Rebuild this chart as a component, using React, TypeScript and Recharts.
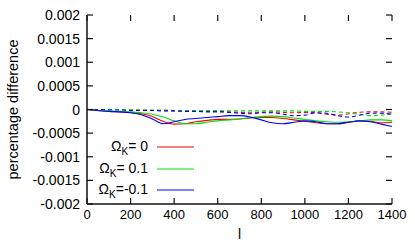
import React from 'react';
import { LineChart, Line, XAxis, YAxis } from 'recharts';

const L = [0, 50, 100, 150, 200, 250, 300, 350, 400, 450, 500, 550, 600, 650, 700, 750, 800, 850, 900, 950, 1000, 1050, 1100, 1150, 1200, 1250, 1300, 1350, 1400];

const redSolid = [0, -0.00002, -0.00004, -0.00005, -0.00006, -0.00009, -0.00015, -0.00025, -0.00031, -0.0003, -0.00026, -0.00023, -0.00021, -0.00021, -0.0002, -0.00018, -0.00017, -0.00017, -0.00019, -0.00022, -0.00025, -0.00028, -0.0003, -0.0003, -0.00027, -0.00024, -0.00025, -0.00028, -0.00027];
const greenSolid = [0, -0.00002, -0.00003, -0.00004, -0.00005, -0.00007, -0.0001, -0.00016, -0.00024, -0.0003, -0.0003, -0.00027, -0.00024, -0.00022, -0.0002, -0.00017, -0.00015, -0.00014, -0.00015, -0.00018, -0.00021, -0.00024, -0.00026, -0.00027, -0.00026, -0.00024, -0.00022, -0.00022, -0.00024];
const blueSolid = [0, -0.00002, -0.00004, -0.00005, -0.00007, -0.00011, -0.0002, -0.0003, -0.00026, -0.00021, -0.00019, -0.00017, -0.00015, -0.00013, -0.00013, -0.00016, -0.00022, -0.00028, -0.0003, -0.00027, -0.00024, -0.00026, -0.0003, -0.0003, -0.00027, -0.00024, -0.00026, -0.00031, -0.00036];
const redDashed = [0, 0, 0, 0, -0.00001, -0.00001, -0.00002, -0.00002, -0.00003, -0.00003, -0.00003, -0.00004, -0.00004, -0.00005, -0.00006, -0.00007, -0.00006, -0.00005, -0.00006, -0.00007, -0.00006, -0.00007, -0.0001, -0.00012, -0.00009, -0.00006, -0.00005, -0.00005, -0.00006];
const greenDashed = [0, 0, 0, 0, -0.00001, -0.00001, -0.00001, -0.00001, -0.00002, -0.00002, -0.00002, -0.00002, -0.00002, -0.00003, -0.00003, -0.00003, -0.00003, -0.00003, -0.00003, -0.00003, -0.00004, -0.00004, -0.00004, -0.00005, -0.00007, -0.0001, -0.00013, -0.00012, -0.00009];
const blueDashed = [0, 0, -0.00001, -0.00001, -0.00002, -0.00002, -0.00002, -0.00003, -0.00003, -0.00004, -0.00004, -0.00005, -0.00005, -0.00006, -0.00008, -0.00009, -0.00007, -0.00007, -0.0001, -0.00013, -0.00012, -0.00007, -0.00008, -0.00013, -0.00016, -0.00012, -0.00008, -0.00008, -0.0001];

const xTicks = [0, 200, 400, 600, 800, 1000, 1200, 1400];
const yTicks = [-0.002, -0.0015, -0.001, -0.0005, 0, 0.0005, 0.001, 0.0015, 0.002];

const legendNames = ['\u00a00', '\u00a00.1', '-0.1'];
const RED = '#ff0000';
const GREEN = '#00e000';
const BLUE = '#0000ff';
const legendColors = [RED, GREEN, BLUE];

const data = L.map((l, i) => ({
  l,
  r: redSolid[i],
  g: greenSolid[i],
  b: blueSolid[i],
  rd: redDashed[i],
  gd: greenDashed[i],
  bd: blueDashed[i],
}));

const FONT = '"Liberation Sans", Arial, Helvetica, sans-serif';
const FRAME = '#111';
const PL = 87;
const PR = 392;
const PT = 15;
const PB = 204;
const TK = 6;

const fmtY = (v: number) => {
  if (Math.abs(v) < 1e-12) return '0';
  return String(Number(v.toPrecision(2)));
};

// bottom tick: draws the inward tick at the bottom and its mirror at the top
const BottomTick = (props: any) => {
  const { x, payload } = props;
  return (
    <g>
      <line x1={x} x2={x} y1={PB} y2={PB - TK} stroke={FRAME} strokeWidth={1.2} />
      <line x1={x} x2={x} y1={PT} y2={PT + TK} stroke={FRAME} strokeWidth={1.2} />
      <text x={x} y={PB + 15} textAnchor="middle" fontFamily={FONT} fontSize={13} fill="#000">
        {payload.value}
      </text>
    </g>
  );
};

// left tick: draws the inward tick at the left and its mirror at the right
const LeftTick = (props: any) => {
  const { y, payload } = props;
  return (
    <g>
      <line x1={PL} x2={PL + TK} y1={y} y2={y} stroke={FRAME} strokeWidth={1.2} />
      <line x1={PR} x2={PR - TK} y1={y} y2={y} stroke={FRAME} strokeWidth={1.2} />
      <text x={PL - 7} y={y + 5} textAnchor="end" fontFamily={FONT} fontSize={14} fill="#000">
        {fmtY(payload.value)}
      </text>
    </g>
  );
};

const YLabel = (props: any) => {
  const vb = props.viewBox || { x: 0, y: PT, width: PL, height: PB - PT };
  const cx = 13;
  const cy = vb.y + vb.height / 2;
  return (
    <text x={cx} y={cy} transform={`rotate(-90 ${cx} ${cy})`} textAnchor="middle" dominantBaseline="central" fontFamily={FONT} fontSize={14.5} fill="#000">
      percentage difference
    </text>
  );
};

const XLabel = (props: any) => {
  const vb = props.viewBox || { x: PL, y: PB, width: PR - PL, height: 45 };
  const cx = vb.x + vb.width / 2;
  return (
    <text x={cx} y={239} textAnchor="middle" fontFamily={FONT} fontSize={14} fill="#000">
      l
    </text>
  );
};

const rowY = [147, 169, 190];

export default function App() {
  return (
    <div style={{ position: 'absolute', left: 0, top: 0, width: 415, height: 249, background: '#fff' }}>
      <LineChart width={415} height={249} data={data} margin={{ top: PT, right: 415 - PR, bottom: 0, left: 0 }}>
        <XAxis
          xAxisId="b"
          dataKey="l"
          type="number"
          domain={[0, 1400]}
          ticks={xTicks}
          interval={0}
          height={249 - PB}
          tickLine={false}
          axisLine={{ stroke: FRAME, strokeWidth: 1.5 }}
          tick={<BottomTick />}
          label={<XLabel />}
        />
        <XAxis
          xAxisId="t"
          orientation="top"
          dataKey="l"
          type="number"
          domain={[0, 1400]}
          height={0}
          tickLine={false}
          tick={false}
          axisLine={{ stroke: FRAME, strokeWidth: 1.5 }}
        />
        <YAxis
          yAxisId="l"
          type="number"
          domain={[-0.002, 0.002]}
          ticks={yTicks}
          interval={0}
          width={PL}
          tickLine={false}
          axisLine={{ stroke: FRAME, strokeWidth: 1.5 }}
          tick={<LeftTick />}
          label={<YLabel />}
        />
        <YAxis
          yAxisId="r"
          orientation="right"
          type="number"
          domain={[-0.002, 0.002]}
          width={0}
          tickLine={false}
          tick={false}
          axisLine={{ stroke: FRAME, strokeWidth: 1.5 }}
        />
        <Line xAxisId="b" yAxisId="l" type="monotone" dataKey="rd" stroke={RED} strokeWidth={1.1} strokeDasharray="4 3" dot={false} isAnimationActive={false} />
        <Line xAxisId="b" yAxisId="l" type="monotone" dataKey="gd" stroke={GREEN} strokeWidth={1.1} strokeDasharray="4 3" dot={false} isAnimationActive={false} />
        <Line xAxisId="b" yAxisId="l" type="monotone" dataKey="bd" stroke={BLUE} strokeWidth={1.1} strokeDasharray="4 3" dot={false} isAnimationActive={false} />
        <Line xAxisId="b" yAxisId="l" type="monotone" dataKey="r" stroke={RED} strokeWidth={1.1} dot={false} isAnimationActive={false} />
        <Line xAxisId="b" yAxisId="l" type="monotone" dataKey="g" stroke={GREEN} strokeWidth={1.1} dot={false} isAnimationActive={false} />
        <Line xAxisId="b" yAxisId="l" type="monotone" dataKey="b" stroke={BLUE} strokeWidth={1.1} dot={false} isAnimationActive={false} />
      </LineChart>
      <svg width={415} height={249} style={{ position: 'absolute', left: 0, top: 0, pointerEvents: 'none' }}>
        {legendNames.map((n, i) => (
          <g key={i}>
            <text x={148} y={rowY[i] + 4} textAnchor="end" fontFamily={FONT} fontSize={14} fill="#000">
              Ω<tspan fontSize={10} dy={4}>K</tspan><tspan dy={-4}>={n}</tspan>
            </text>
            <line x1={157} x2={194} y1={rowY[i]} y2={rowY[i]} stroke={legendColors[i]} strokeWidth={1.2} />
          </g>
        ))}
      </svg>
    </div>
  );
}
